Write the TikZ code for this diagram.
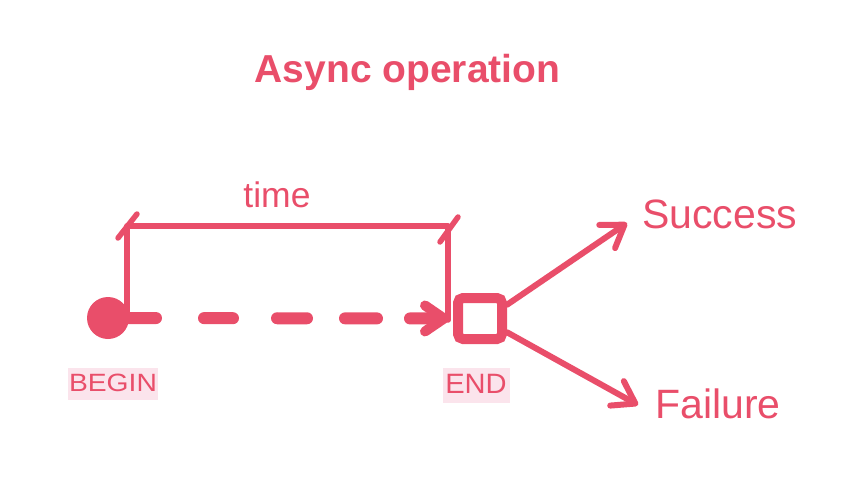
\documentclass[tikz,border=0pt]{standalone}
\usepackage{fontspec}
\setmainfont{Liberation Sans}
\usetikzlibrary{arrows.meta}
\definecolor{ink}{HTML}{E94E6A}
\definecolor{tagbg}{HTML}{FBE4EC}
\begin{document}
\begin{tikzpicture}[x=1pt,y=-1pt,
  every node/.style={text=ink,inner sep=0pt},
  thinline/.style={draw=ink,line width=5.5pt,line cap=round,line join=round},
  tag/.style={fill=tagbg,text=ink,anchor=north west,inner sep=0pt},
  barb/.style={-{Straight Barb[length=21pt,width=28pt,round]}}
]
\useasboundingbox (0,0) rectangle (860,487);
% title
\node (title) [anchor=base,font=\fontsize{39}{40}\selectfont\bfseries] at (407.5,83) {Async operation};
% time bracket
\coordinate (tl) at (127,226);
\coordinate (tr) at (448,226);
\coordinate (bl) at (127,318);
\coordinate (br) at (448,320);
\draw[thinline] (bl) -- (tl) -- (tr) -- (br);
\coordinate (tla) at (118,238); \coordinate (tlb) at (137,214);
\coordinate (tra) at (440,242); \coordinate (trb) at (458,217);
\draw[thinline] (tla) -- (tlb);
\draw[thinline] (tra) -- (trb);
\node (time) [anchor=base,font=\fontsize{35.5}{37}\selectfont] at (277,207) {time};
% begin dot and end square
\node (dot) [circle,fill=ink,minimum size=42pt] at (108,318) {};
\node (endsq) [draw=ink,line width=10pt,rounded corners=5pt,minimum width=44pt,minimum height=41pt] at (480,318.5) {};
% dashed arrow
\draw[ink,line width=12pt,line cap=round,
  dash pattern=on 48pt off 48pt on 29pt off 44pt on 30pt off 38pt on 32pt off 33pt on 200pt,
  -{Straight Barb[length=19pt,width=26pt,round,line width=10pt]}]
  (dot.center) -- ([xshift=-4pt]endsq.west);
% labels
\node (begin) [tag,minimum width=90pt,minimum height=32pt] at (68,368) {};
\node [anchor=base,font=\fontsize{25}{26}\selectfont] at (113,391) {\scalebox{1.13}[1]{BEGIN}};
\node (endlbl) [tag,minimum width=67pt,minimum height=35pt] at (443,368) {};
\node [anchor=base,font=\fontsize{28}{29}\selectfont] at (476,393) {\scalebox{1.04}[1]{END}};
% outcome arrows
\node (success) [anchor=base west,font=\fontsize{41}{43}\selectfont] at (642,228) {Success};
\node (failure) [anchor=base west,font=\fontsize{41}{43}\selectfont] at (655,418) {Failure};
\coordinate (stip) at (627,223);
\coordinate (ftip) at (638,405);
\draw[ink,line width=6pt,line cap=round,barb] (endsq.27) -- (stip);
\draw[ink,line width=6pt,line cap=round,barb] (endsq.-27) -- (ftip);
\end{tikzpicture}
\end{document}
